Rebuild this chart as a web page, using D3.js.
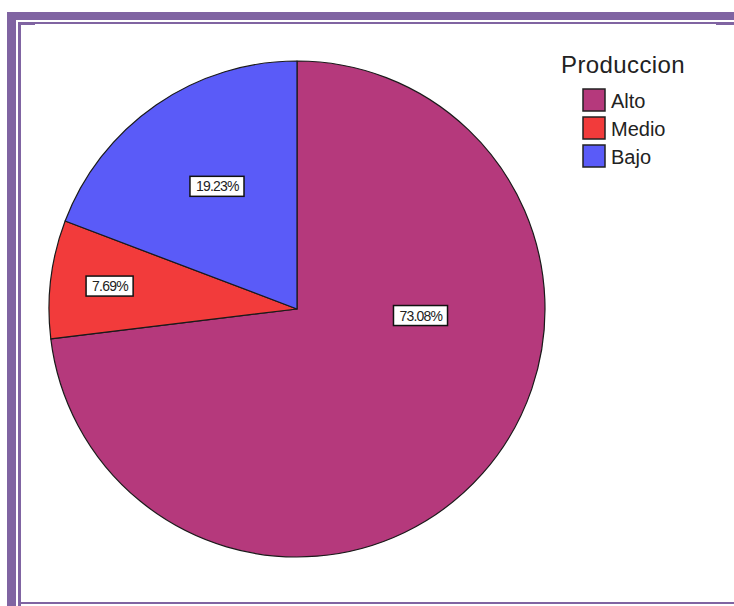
<!DOCTYPE html>
<html>
<head>
<meta charset="utf-8">
<script src="https://cdn.jsdelivr.net/npm/d3@7"></script>
<style>
  html, body { margin: 0; padding: 0; background: #fff; }
  svg { display: block; }
</style>
</head>
<body>
<svg id="chart" width="734" height="606"></svg>
<script>
// chart values
var categories = ["Alto", "Medio", "Bajo"];
var percents = [73.08, 7.69, 19.23];
var colors = ["#b5397c", "#f23b3b", "#5a5bf8"];
var legendTitle = "Produccion";

// where the labels sit: [angle in degrees from 12 o'clock, fraction of radius]
var labelPolar = [[93, 0.50], [277, 0.76], [327, 0.59]];

var svg = d3.select("#chart"),
    frame = "#8064a2",
    cx = 297, cy = 309, radius = 248;

// frame round the output
svg.append("rect").attr("x", 7).attr("y", 12).attr("width", 727).attr("height", 8).attr("fill", frame);
svg.append("rect").attr("x", 7).attr("y", 12).attr("width", 9).attr("height", 594).attr("fill", frame);
svg.append("rect").attr("x", 18).attr("y", 22).attr("width", 716).attr("height", 2).attr("fill", frame);
svg.append("rect").attr("x", 18).attr("y", 22).attr("width", 3).attr("height", 584).attr("fill", frame);
svg.append("rect").attr("x", 18).attr("y", 602).attr("width", 716).attr("height", 2).attr("fill", frame);
svg.append("rect").attr("x", 21).attr("y", 24).attr("width", 14).attr("height", 1).attr("fill", frame);
svg.append("rect").attr("x", 716).attr("y", 24).attr("width", 18).attr("height", 1).attr("fill", frame);

var pie = d3.pie().sort(null).value(function(d) { return d; });
var arc = d3.arc().innerRadius(0).outerRadius(radius);
var arcs = pie(percents);

var g = svg.append("g").attr("transform", "translate(" + cx + "," + cy + ")");

g.selectAll("path.slice")
  .data(arcs)
  .enter().append("path")
    .attr("class", "slice")
    .attr("d", arc)
    .attr("fill", function(d, i) { return colors[i]; })
    .attr("stroke", "#1a1a1a")
    .attr("stroke-width", 1.2)
    .attr("stroke-linejoin", "round");

// value labels in boxes
var labels = g.selectAll("g.label")
  .data(arcs)
  .enter().append("g")
    .attr("class", "label")
    .attr("transform", function(d, i) {
      var a = labelPolar[i][0] * Math.PI / 180,
          r = labelPolar[i][1] * radius;
      return "translate(" + (Math.sin(a) * r) + "," + (-Math.cos(a) * r) + ")";
    });

labels.append("text")
  .attr("text-anchor", "middle")
  .attr("dy", "0.36em")
  .style("font-family", "Liberation Sans, Arial, sans-serif")
  .style("font-size", "14px")
  .style("letter-spacing", "-0.8px")
  .attr("fill", "#222")
  .text(function(d, i) { return percents[i].toFixed(2) + "%"; });

labels.each(function() {
  var t = d3.select(this).select("text"),
      b = t.node().getBBox();
  d3.select(this).insert("rect", "text")
    .attr("x", b.x - 6).attr("y", b.y - 2)
    .attr("width", b.width + 11).attr("height", b.height + 4)
    .attr("fill", "#fff")
    .attr("stroke", "#111")
    .attr("stroke-width", 1.5);
});

// legend
var legend = svg.append("g").attr("transform", "translate(561,73)");
legend.append("text")
  .style("font-family", "Liberation Sans, Arial, sans-serif")
  .style("font-size", "24px")
  .style("letter-spacing", "0.4px")
  .attr("fill", "#222")
  .text(legendTitle);

var items = legend.selectAll("g.item")
  .data(categories)
  .enter().append("g")
    .attr("class", "item")
    .attr("transform", function(d, i) { return "translate(22," + (16 + i * 28) + ")"; });

items.append("rect")
  .attr("width", 22).attr("height", 22)
  .attr("fill", function(d, i) { return colors[i]; })
  .attr("stroke", "#222")
  .attr("stroke-width", 1.5);

items.append("text")
  .attr("x", 28).attr("y", 19)
  .style("font-family", "Liberation Sans, Arial, sans-serif")
  .style("font-size", "20px")
  .attr("fill", "#222")
  .text(function(d) { return d; });
</script>
</body>
</html>
